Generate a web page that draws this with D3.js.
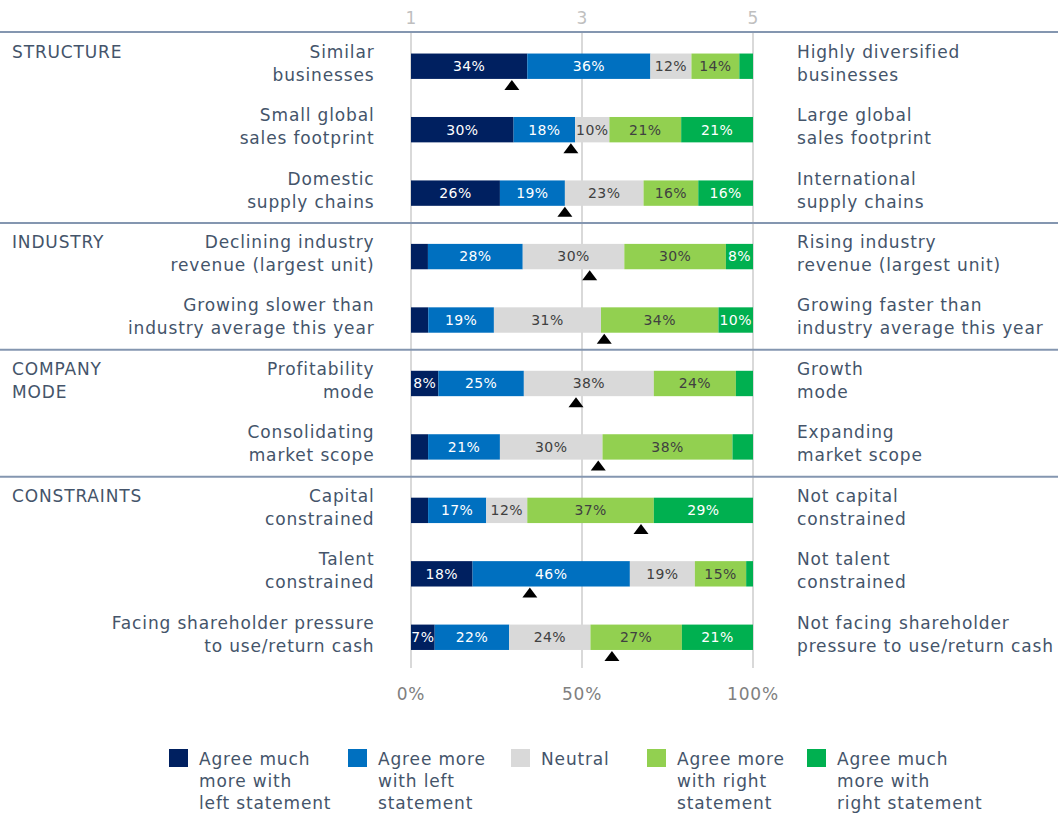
<!DOCTYPE html>
<html>
<head>
<meta charset="utf-8">
<script src="https://cdn.jsdelivr.net/npm/d3@7"></script>
<style>
    body { margin: 0; background: #fff; }
    svg text { font-family: "DejaVu Sans", Verdana, sans-serif; }
</style>
</head>
<body>
<div id="chart"></div>
<script>
'use strict';

/* global d3 */

var leftStatements = [
    ["Similar", "businesses"],
    ["Small global", "sales footprint"],
    ["Domestic", "supply chains"],
    ["Declining industry", "revenue (largest unit)"],
    ["Growing slower than", "industry average this year"],
    ["Profitability", "mode"],
    ["Consolidating", "market scope"],
    ["Capital", "constrained"],
    ["Talent", "constrained"],
    ["Facing shareholder pressure", "to use/return cash"]
];

var rightStatements = [
    ["Highly diversified", "businesses"],
    ["Large global", "sales footprint"],
    ["International", "supply chains"],
    ["Rising industry", "revenue (largest unit)"],
    ["Growing faster than", "industry average this year"],
    ["Growth", "mode"],
    ["Expanding", "market scope"],
    ["Not capital", "constrained"],
    ["Not talent", "constrained"],
    ["Not facing shareholder", "pressure to use/return cash"]
];

var groups = [
    { name: ["STRUCTURE"], first: 0 },
    { name: ["INDUSTRY"], first: 3 },
    { name: ["COMPANY", "MODE"], first: 5 },
    { name: ["CONSTRAINTS"], first: 7 }
];

var seriesKeys = ["muchLeft", "moreLeft", "neutral", "moreRight", "muchRight"];
var seriesNames = [
    ["Agree much", "more with", "left statement"],
    ["Agree more", "with left", "statement"],
    ["Neutral"],
    ["Agree more", "with right", "statement"],
    ["Agree much", "more with", "right statement"]
];
var seriesColors = ["#002060", "#0070c0", "#d9d9d9", "#92d050", "#00b050"];
var labelColors = ["#ffffff", "#ffffff", "#404040", "#404040", "#ffffff"];

var muchLeft  = [34, 30, 26,  5,  5,  8,  5,  5, 18,  7];
var moreLeft  = [36, 18, 19, 28, 19, 25, 21, 17, 46, 22];
var neutral   = [12, 10, 23, 30, 31, 38, 30, 12, 19, 24];
var moreRight = [14, 21, 16, 30, 34, 24, 38, 37, 15, 27];
var muchRight = [ 4, 21, 16,  8, 10,  5,  6, 29,  2, 21];

// average score on the 1-5 scale (the black triangles)
var meanScore = [2.18, 2.87, 2.80, 3.09, 3.26, 2.93, 3.19, 3.69, 2.39, 3.35];

var scoreTicks = [1, 3, 5];
var pctTicks = [0, 0.5, 1];

var width = 1058;
var height = 813;
var textColor = "#44546a";
var ruleColor = "#8496b0";
var fontSize = 17;
var spacing = "0.85px";

var rows = leftStatements.map(function (d, i) {
    return {
        index: i,
        muchLeft: muchLeft[i],
        moreLeft: moreLeft[i],
        neutral: neutral[i],
        moreRight: moreRight[i],
        muchRight: muchRight[i]
    };
});

var x = d3.scaleLinear().domain([0, 1]).range([411, 753]);
var xScore = d3.scaleLinear().domain([1, 5]).range([411, 753]);
var y = d3.scaleBand()
    .domain(d3.range(rows.length))
    .range([34.5, 669])
    .paddingInner(0.6)
    .paddingOuter(0.3);

var stacked = d3.stack()
    .keys(seriesKeys)
    .offset(d3.stackOffsetExpand)(rows);

var svg = d3.select("#chart").append("svg")
    .attr("width", width)
    .attr("height", height);

// grid lines
svg.append("g")
    .selectAll("line")
    .data(scoreTicks)
    .join("line")
    .attr("x1", function (d) { return xScore(d); })
    .attr("x2", function (d) { return xScore(d); })
    .attr("y1", 33)
    .attr("y2", 668)
    .attr("stroke", "#d9d9d9")
    .attr("stroke-width", 2);

// top axis 1..5
svg.append("g")
    .selectAll("text")
    .data(scoreTicks)
    .join("text")
    .attr("x", function (d) { return xScore(d); })
    .attr("y", 18)
    .attr("dy", "0.35em")
    .attr("text-anchor", "middle")
    .attr("fill", "#bfbfbf")
    .attr("font-size", 17)
    .text(function (d) { return d; });

// bottom axis 0%..100%
svg.append("g")
    .selectAll("text")
    .data(pctTicks)
    .join("text")
    .attr("x", function (d) { return x(d); })
    .attr("y", 694)
    .attr("dy", "0.35em")
    .attr("text-anchor", "middle")
    .attr("fill", "#808080")
    .attr("font-size", 17)
    .attr("letter-spacing", "0.8px")
    .text(d3.format(".0%"));

// group separators
var separatorY = [32].concat(groups.slice(1).map(function (g) {
    return y(g.first) - 21;
}));
svg.append("g")
    .selectAll("line")
    .data(separatorY)
    .join("line")
    .attr("x1", 0)
    .attr("x2", width)
    .attr("y1", function (d) { return d; })
    .attr("y2", function (d) { return d; })
    .attr("stroke", ruleColor)
    .attr("stroke-width", 2);

// bars
var layer = svg.append("g")
    .selectAll("g")
    .data(stacked)
    .join("g")
    .attr("fill", function (d, i) { return seriesColors[i]; });

layer.selectAll("rect")
    .data(function (d) { return d; })
    .join("rect")
    .attr("x", function (d) { return x(d[0]); })
    .attr("width", function (d) { return x(d[1]) - x(d[0]); })
    .attr("y", function (d) { return y(d.data.index); })
    .attr("height", y.bandwidth());

layer.each(function (s, si) {
    d3.select(this).selectAll("text")
        .data(s.filter(function (d) { return d.data[s.key] >= 7; }))
        .join("text")
        .attr("x", function (d) { return (x(d[0]) + x(d[1])) / 2; })
        .attr("y", function (d) { return y(d.data.index) + y.bandwidth() / 2; })
        .attr("dy", "0.35em")
        .attr("text-anchor", "middle")
        .attr("fill", labelColors[si])
        .attr("font-size", 14)
        .attr("letter-spacing", "0.4px")
        .text(function (d) { return d.data[s.key] + "%"; });
});

// mean markers
svg.append("g")
    .selectAll("path")
    .data(meanScore)
    .join("path")
    .attr("transform", function (d, i) {
        return "translate(" + xScore(d) + "," + (y(i) + y.bandwidth() + 6) + ")";
    })
    .attr("d", "M0,-5L7.5,5L-7.5,5Z")
    .attr("fill", "#000");

// statements, two lines each
function twoLines(sel, lines, rowIndex) {
    var cy = y(rowIndex) + y.bandwidth() / 2;
    sel.selectAll("tspan")
        .data(lines)
        .join("tspan")
        .attr("x", sel.attr("x"))
        .attr("y", function (d, j) { return cy - 14.5 + j * 23; })
        .attr("dy", "0.35em")
        .text(function (d) { return d; });
}

svg.append("g")
    .selectAll("text")
    .data(leftStatements)
    .join("text")
    .attr("x", 374.5)
    .attr("text-anchor", "end")
    .attr("fill", textColor)
    .attr("font-size", fontSize)
    .attr("letter-spacing", spacing)
    .each(function (d, i) { twoLines(d3.select(this), d, i); });

svg.append("g")
    .selectAll("text")
    .data(rightStatements)
    .join("text")
    .attr("x", 797)
    .attr("fill", textColor)
    .attr("font-size", fontSize)
    .attr("letter-spacing", spacing)
    .each(function (d, i) { twoLines(d3.select(this), d, i); });

// group names
svg.append("g")
    .selectAll("text")
    .data(groups)
    .join("text")
    .attr("x", 12)
    .attr("fill", textColor)
    .attr("font-size", fontSize)
    .attr("letter-spacing", spacing)
    .each(function (g) {
        var cy = y(g.first) + y.bandwidth() / 2 - 14.5;
        d3.select(this).selectAll("tspan")
            .data(g.name)
            .join("tspan")
            .attr("x", 12)
            .attr("y", function (d, j) { return cy + j * 23; })
            .attr("dy", "0.35em")
            .text(function (d) { return d; });
    });

// legend
var legendX = [169, 348, 511, 647, 807];
var legend = svg.append("g")
    .selectAll("g")
    .data(seriesNames)
    .join("g")
    .attr("transform", function (d, i) { return "translate(" + legendX[i] + ",749)"; });

legend.append("rect")
    .attr("width", 19)
    .attr("height", 18)
    .attr("fill", function (d, i) { return seriesColors[i]; });

legend.append("text")
    .attr("fill", textColor)
    .attr("font-size", fontSize)
    .attr("letter-spacing", spacing)
    .selectAll("tspan")
    .data(function (d) { return d; })
    .join("tspan")
    .attr("x", 30)
    .attr("y", function (d, j) { return 10 + j * 22; })
    .attr("dy", "0.35em")
    .text(function (d) { return d; });
</script>
</body>
</html>
